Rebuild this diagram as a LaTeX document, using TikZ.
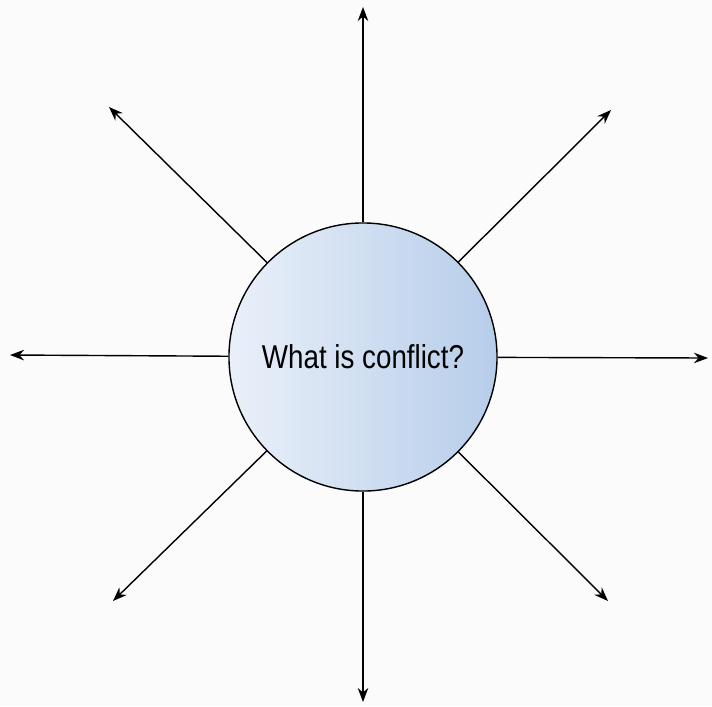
\documentclass[tikz,border=0pt]{standalone}
\usepackage{fontspec}
\setmainfont[FakeStretch=0.84]{Liberation Sans}
\usetikzlibrary{arrows.meta,positioning,shapes}
\definecolor{hubleft}{HTML}{EAF0F9}
\definecolor{hubright}{HTML}{B6CDEA}
\tikzset{
    spoke/.style={line width=1pt,-{Stealth[length=10pt,width=7.5pt]}},
    hub/.style={circle,draw,line width=1pt,minimum size=6.7cm,
        left color=hubleft,right color=hubright},
}

\begin{document}
\begin{tikzpicture}[x=0.025cm,y=-0.025cm]
\fill[gray!3] (0,0) rectangle (712,706);
\useasboundingbox (0,0) rectangle (712,706);

\node[hub] (c) at (363,357) {\fontsize{23.5}{28}\selectfont What is conflict?};

\coordinate (n) at (363,7);
\coordinate (s) at (363,702);
\coordinate (w) at (10,355);
\coordinate (e) at (708,358);
\coordinate (nw) at (109,107);
\coordinate (ne) at (611,110);
\coordinate (sw) at (113,601);
\coordinate (se) at (608,601);

\foreach \p in {n,s,w,e,nw,ne,sw,se}
  {
       \draw[spoke] (c) -- (\p);}

\end{tikzpicture}
\end{document}
